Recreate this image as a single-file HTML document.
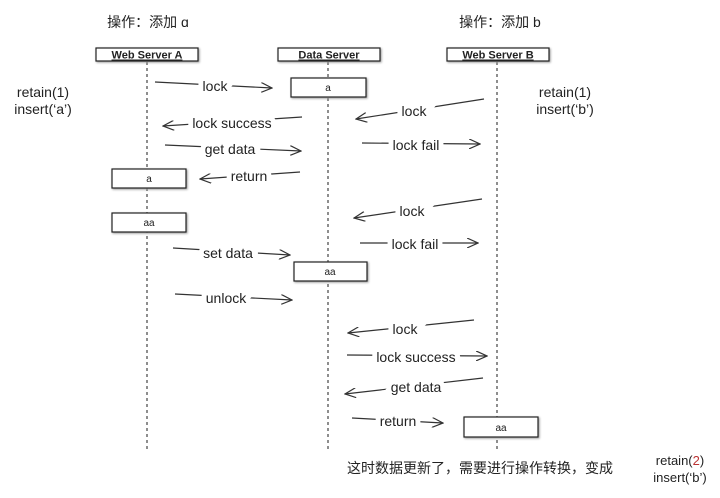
<!DOCTYPE html>
<html><head><meta charset="utf-8"><style>
body{margin:0;background:#fff;}
svg{display:block;}
text{font-family:"Liberation Sans","Noto Sans CJK SC",sans-serif;fill:#222;}
.l{font-size:14px;text-anchor:middle;paint-order:stroke;stroke:#fff;stroke-width:10px;}
.b{font-size:10px;text-anchor:middle;}
.h{font-size:11px;font-weight:bold;text-anchor:middle;text-decoration:underline;}
</style></head><body>
<svg width="720" height="498" viewBox="0 0 720 498" xmlns="http://www.w3.org/2000/svg">
<defs><marker id="a" markerWidth="12" markerHeight="10" refX="11" refY="5" orient="auto" markerUnits="userSpaceOnUse"><path d="M0,0 L11,5 L0,10" fill="none" stroke="#333" stroke-width="1.2"/></marker></defs>
<text x="148" y="27" font-size="14" text-anchor="middle" fill="#444">操作：添加 ɑ</text>
<text x="500" y="27" font-size="14" text-anchor="middle" fill="#444">操作：添加 b</text>
<g stroke="#444" stroke-width="1.2" stroke-dasharray="3,3">
<line x1="147" y1="62" x2="147" y2="452"/><line x1="328" y1="62" x2="328" y2="452"/><line x1="497" y1="62" x2="497" y2="452"/></g>
<g fill="#fff" stroke="#222" stroke-width="1.2" style="filter:drop-shadow(1px 1px 1px #999)">
<rect x="96" y="48" width="102" height="13"/><rect x="278" y="48" width="102" height="13"/><rect x="447" y="48" width="102" height="13"/>
<rect x="291" y="78" width="75" height="19"/><rect x="112" y="169" width="74" height="19"/><rect x="112" y="213" width="74" height="19"/>
<rect x="294" y="262" width="73" height="19"/><rect x="464" y="417" width="74" height="20"/></g>
<text class="h" x="147" y="58.5">Web Server A</text><text class="h" x="329" y="58.5">Data Server</text><text class="h" x="498" y="58.5">Web Server B</text>
<text class="b" x="328" y="91">a</text><text class="b" x="149" y="182">a</text><text class="b" x="149" y="226">aa</text><text class="b" x="330" y="275">aa</text><text class="b" x="501" y="431">aa</text>
<g stroke="#333" stroke-width="1.2" fill="none" marker-end="url(#a)">
<line x1="155" y1="82" x2="272" y2="88"/>
<line x1="302" y1="117" x2="163" y2="126"/>
<line x1="165" y1="145" x2="301" y2="151"/>
<line x1="300" y1="172" x2="200" y2="179"/>
<line x1="173" y1="248" x2="290" y2="255"/>
<line x1="175" y1="294" x2="292" y2="300"/>
<line x1="484" y1="99" x2="356" y2="119"/>
<line x1="362" y1="143" x2="480" y2="144"/>
<line x1="482" y1="199" x2="354" y2="218"/>
<line x1="360" y1="243" x2="478" y2="243"/>
<line x1="474" y1="320" x2="348" y2="333"/>
<line x1="347" y1="355" x2="487" y2="356"/>
<line x1="483" y1="378" x2="345" y2="394"/>
<line x1="352" y1="418" x2="443" y2="423"/>
</g>
<text class="l" x="215" y="91">lock</text>
<text class="l" x="232" y="128">lock success</text>
<text class="l" x="230" y="154">get data</text>
<text class="l" x="249" y="181">return</text>
<text class="l" x="228" y="258">set data</text>
<text class="l" x="226" y="303">unlock</text>
<text class="l" x="414" y="116">lock</text>
<text class="l" x="416" y="150">lock fail</text>
<text class="l" x="412" y="216">lock</text>
<text class="l" x="415" y="249">lock fail</text>
<text class="l" x="405" y="334">lock</text>
<text class="l" x="416" y="362">lock success</text>
<text class="l" x="416" y="392">get data</text>
<text class="l" x="398" y="426">return</text>
<text x="43" y="97" font-size="14" text-anchor="middle">retain(1)</text>
<text x="43" y="114" font-size="14" text-anchor="middle">insert(‘a’)</text>
<text x="565" y="97" font-size="14" text-anchor="middle">retain(1)</text>
<text x="565" y="114" font-size="14" text-anchor="middle">insert(‘b’)</text>
<text x="347" y="473" font-size="14">这时数据更新了，需要进行操作转换，变成</text>
<text x="680" y="465" font-size="13" text-anchor="middle">retain(<tspan fill="#b33">2</tspan>)</text>
<text x="680" y="482" font-size="13" text-anchor="middle">insert(‘b’)</text>
</svg>
</body></html>
